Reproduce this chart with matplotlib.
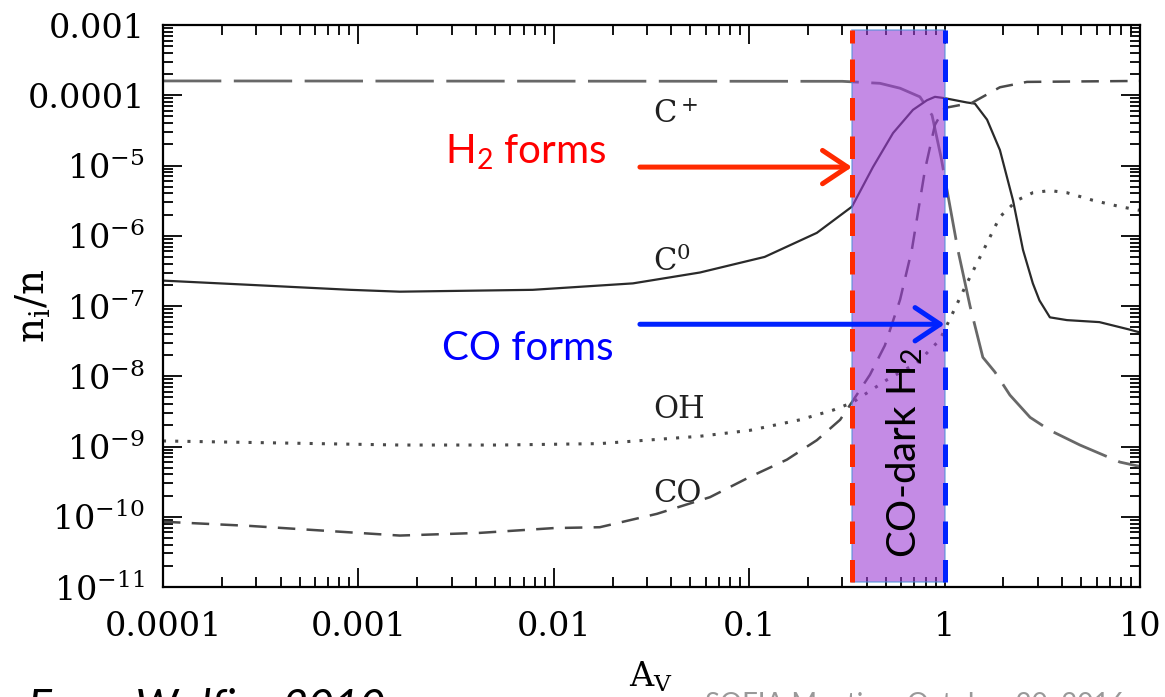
import matplotlib
matplotlib.use("Agg")
import matplotlib.pyplot as plt
from matplotlib.ticker import FixedLocator, NullFormatter

# abundances n_i/n versus visual extinction A_V
av_cplus = [1e-4, 0.3, 0.467, 0.592, 0.748, 0.863, 0.96, 1.17, 1.35, 1.57, 1.81,
            2.16, 2.74, 3.46, 4.93, 7.9, 10]
cplus = [1.6e-4, 1.58e-4, 1.48e-4, 1.26e-4, 9.5e-5, 5.2e-5, 1.3e-5, 6.3e-7, 1.0e-7,
         1.86e-8, 1.15e-8, 5.4e-9, 2.6e-9, 1.7e-9, 1.05e-9, 6.0e-10, 5.2e-10]

av_c0 = [1e-4, 2.8e-4, 9.1e-4, 1.63e-3, 7.8e-3, 0.0254, 0.056, 0.12, 0.222, 0.336,
         0.43, 0.545, 0.689, 0.813, 0.893, 1.0, 1.30, 1.43, 1.65, 1.92, 2.24, 2.52,
         2.83, 3.06, 3.46, 4.23, 6.2, 8.9, 10]
c0 = [2.3e-7, 2.0e-7, 1.7e-7, 1.6e-7, 1.7e-7, 2.1e-7, 3.0e-7, 5.0e-7, 1.1e-6, 2.6e-6,
      9.5e-6, 2.9e-5, 6.2e-5, 8.5e-5, 9.5e-5, 9.1e-5, 7.9e-5, 7.6e-5, 4.5e-5, 1.66e-5,
      3.2e-6, 6.3e-7, 2.1e-7, 1.2e-7, 6.9e-8, 6.3e-8, 5.9e-8, 4.6e-8, 4.2e-8]

av_oh = [1e-4, 1.63e-3, 5.3e-3, 0.0172, 0.056, 0.101, 0.182, 0.269, 0.336, 0.507,
         0.723, 0.946, 1.10, 1.30, 1.52, 1.65, 1.92, 2.35, 2.83, 3.46, 4.23, 5.74,
         7.9, 10]
oh = [1.2e-9, 1.05e-9, 1.05e-9, 1.1e-9, 1.4e-9, 1.7e-9, 2.4e-9, 3.3e-9, 4.2e-9, 8.9e-9,
      1.55e-8, 3.3e-8, 7.9e-8, 2.1e-7, 5.0e-7, 7.9e-7, 1.86e-6, 3.2e-6, 4.1e-6, 4.4e-6,
      4.1e-6, 3.2e-6, 2.6e-6, 2.3e-6]

av_co = [1e-4, 2.8e-4, 1.63e-3, 4.2e-3, 0.01, 0.0172, 0.0337, 0.063, 0.101, 0.156,
         0.222, 0.292, 0.336, 0.415, 0.495, 0.592, 0.68, 0.794, 0.893, 1.0, 1.38,
         1.92, 2.64, 10]
co = [8.5e-11, 7.4e-11, 5.4e-11, 5.9e-11, 6.9e-11, 7.1e-11, 1.1e-10, 1.9e-10, 3.7e-10,
      6.5e-10, 1.23e-9, 2.4e-9, 4.3e-9, 1.05e-8, 2.75e-8, 1.23e-7, 6.3e-7, 8.7e-6,
      3.8e-5, 6.6e-5, 7.8e-5, 1.3e-4, 1.55e-4, 1.6e-4]

# where H2 and CO form
av_h2_forms = 0.336
av_co_forms = 1.0

x_ticks = [1e-4, 1e-3, 1e-2, 1e-1, 1, 10]
x_labels = ["0.0001", "0.001", "0.01", "0.1", "1", "10"]
y_ticks = [1e-3, 1e-4, 1e-5, 1e-6, 1e-7, 1e-8, 1e-9, 1e-10, 1e-11]
y_labels = ["0.001", "0.0001", r"$10^{-5}$", r"$10^{-6}$", r"$10^{-7}$", r"$10^{-8}$",
            r"$10^{-9}$", r"$10^{-10}$", r"$10^{-11}$"]

plt.rcParams["font.family"] = "DejaVu Serif"
plt.rcParams["mathtext.fontset"] = "dejavuserif"

fig = plt.figure(figsize=(11.65, 6.97), dpi=100)
ax = fig.add_axes([0.1399, 0.1578, 0.8386, 0.8063])
ax.set_xscale("log")
ax.set_yscale("log")
ax.set_xlim(1e-4, 10)
ax.set_ylim(1e-11, 1e-3)

line_col = "#4a4a4a"
ax.plot(av_cplus, cplus, color="#686868", lw=2.0, dashes=(21, 4.5))
ax.plot(av_c0, c0, color="#2a2a2a", lw=1.6)
ax.plot(av_oh, oh, color=line_col, lw=2.2, dashes=(1, 3))
ax.plot(av_co, co, color=line_col, lw=1.8, dashes=(7, 4.5))

# CO-dark H2 zone
ax.axvspan(av_h2_forms, av_co_forms, ymin=0.009, ymax=0.991, facecolor="#9e3ed5",
           alpha=0.6, edgecolor="#4a90d9", lw=1.2, zorder=3)
ax.axvline(av_h2_forms, ymin=0.009, ymax=0.991, color="#ff2a00", lw=3.6,
           dashes=(4.5, 3.2), zorder=4)
ax.axvline(av_co_forms, ymin=0.009, ymax=0.991, color="#0022ff", lw=3.6,
           dashes=(4.5, 3.2), zorder=4)

for txt, x, y in [(r"C$^+$", 0.0322, 4.0e-5), (r"C$^0$", 0.0322, 3.2e-7),
                  ("OH", 0.0322, 2.55e-9), ("CO", 0.0322, 1.6e-10)]:
    ax.text(x, y, txt, fontsize=22, va="baseline", ha="left", color="#202020")

ax.text(2.77e-3, 1.09e-5, r"H$_\mathregular{2}$ forms", family="Lato", fontsize=29,
        color="#ff0000", va="baseline", ha="left")
ax.text(2.68e-3, 1.7e-8, "CO forms", family="Lato", fontsize=29,
        color="#0000ff", va="baseline", ha="left")
ax.text(0.62, 8.1e-10, r"CO-dark H$_\mathregular{2}$", family="Lato", fontsize=29,
        color="black", rotation=90, ha="center", va="center", zorder=5)

ax.annotate("", xy=(av_h2_forms, 9.5e-6), xytext=(0.0276, 9.5e-6), zorder=6,
            arrowprops=dict(arrowstyle="->,head_length=0.9,head_width=0.6",
                            color="#ff2a00", lw=3.6, mutation_scale=20,
                            shrinkA=0, shrinkB=0))
ax.annotate("", xy=(av_co_forms, 5.5e-8), xytext=(0.0276, 5.5e-8), zorder=6,
            arrowprops=dict(arrowstyle="->,head_length=0.9,head_width=0.6",
                            color="#0022ff", lw=3.6, mutation_scale=20,
                            shrinkA=0, shrinkB=0))

# ticks, minor ones at 2..9 of every decade, all pointing inwards
x_minor = [m * 10.0 ** e for e in range(-4, 1) for m in range(2, 10)]
y_minor = [m * 10.0 ** e for e in range(-11, -3) for m in range(2, 10)]
ax.set_xticks(x_ticks, labels=x_labels)
ax.set_yticks(y_ticks, labels=y_labels)
ax.xaxis.set_minor_locator(FixedLocator(x_minor))
ax.yaxis.set_minor_locator(FixedLocator(y_minor))
ax.xaxis.set_minor_formatter(NullFormatter())
ax.yaxis.set_minor_formatter(NullFormatter())
ax.tick_params(which="both", direction="in", top=True, right=True, bottom=True,
               left=True, width=1.3, labelsize=24, colors="black")
ax.tick_params(which="major", length=14)
ax.tick_params(which="minor", length=7)
ax.tick_params(axis="x", pad=17)
ax.tick_params(axis="y", pad=13)
for sp in ax.spines.values():
    sp.set_linewidth(1.6)
    sp.set_zorder(7)

fig.text(0.559, 0.053, r"$\mathregular{A_V}$", fontsize=24, ha="center", va="top")
fig.text(0.028, 0.561, r"$\mathregular{n_i/n}$", fontsize=28, rotation=90,
         ha="center", va="center")

fig.text(0.024, 0.0129, "From Wolfire 2010", family="Lato", style="italic",
         fontsize=32, ha="left", va="top")
fig.text(0.605, 0.0072, "SOFIA Meeting, October 20, 2016", family="Lato",
         fontsize=20, color="#999999", ha="left", va="top")

fig.savefig("out.png", dpi=100)
